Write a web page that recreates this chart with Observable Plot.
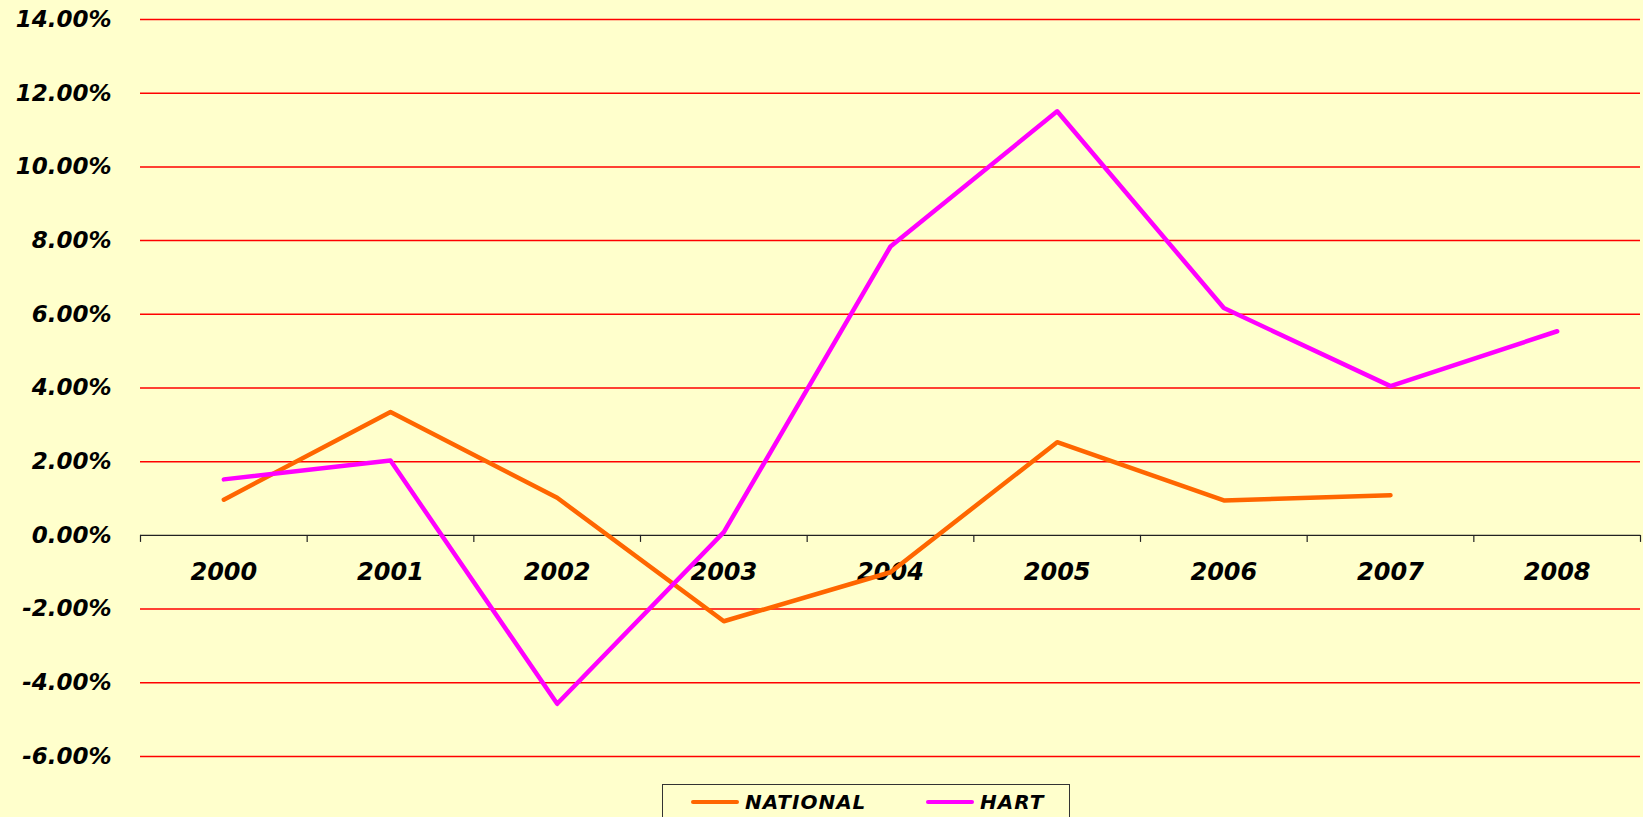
<!DOCTYPE html>
<html>
<head>
<meta charset="utf-8">
<script src="https://cdn.jsdelivr.net/npm/d3@7"></script>
<script src="https://cdn.jsdelivr.net/npm/@observablehq/plot@0.6"></script>
<style>
  html, body { margin: 0; padding: 0; background: #FFFFCC; overflow: hidden; }
  #wrap { position: relative; width: 1643px; height: 817px; }
  #legend {
    position: absolute; left: 662px; top: 784px; width: 408px; height: 44px;
    border: 1.5px solid #333; box-sizing: border-box;
    font-family: "DejaVu Sans", sans-serif; font-weight: bold; font-style: italic;
    font-size: 20px; letter-spacing: 1px; color: #000;
  }
  .item { position: absolute; top: 5px; display: flex; align-items: center; height: 24px; }
  .sw { width: 48px; height: 4.5px; border-radius: 3px; margin-right: 6px; }
</style>
</head>
<body>
<div id="wrap">
  <div id="chart"></div>
  <div id="legend"></div>
</div>
<script>
const years = [2000, 2001, 2002, 2003, 2004, 2005, 2006, 2007, 2008];
const nationalValues = [0.97, 3.35, 1.02, -2.33, -1.00, 2.53, 0.95, 1.09];
const hartValues = [1.52, 2.03, -4.57, 0.09, 7.84, 11.51, 6.17, 4.05, 5.54];
const yTicks = [-6, -4, -2, 0, 2, 4, 6, 8, 10, 12, 14];
const seriesNames = ["NATIONAL", "HART"];
const seriesColors = ["#FF6600", "#FF00FF"];

const national = nationalValues.map((v, i) => ({year: years[i], value: v}));
const hart = hartValues.map((v, i) => ({year: years[i], value: v}));
const bounds = years.map(y => y - 0.5).concat([years[years.length - 1] + 0.5]);

const chart = Plot.plot({
  width: 1643,
  height: 784,
  marginLeft: 140,
  marginRight: 3,
  marginTop: 19,
  marginBottom: 28,
  style: {background: "#FFFFCC", fontFamily: "DejaVu Sans, sans-serif", fontWeight: "bold", fontStyle: "italic", fontSize: "23px", color: "#000"},
  x: {type: "linear", domain: [bounds[0], bounds[bounds.length - 1]], axis: null},
  y: {domain: [-6, 14], axis: null},
  marks: [
    Plot.ruleY(yTicks.filter(d => d !== 0), {stroke: "#FF0000", strokeWidth: 1.5}),
    Plot.ruleY([0], {stroke: "#222", strokeWidth: 1.2}),
    Plot.ruleX(bounds, {y1: 0, y2: 0, insetBottom: -7, stroke: "#222", strokeWidth: 1.2}),
    Plot.axisY(yTicks, {anchor: "left", label: null, tickSize: 0, tickPadding: 29, tickFormat: d => d.toFixed(2) + "%", fontSize: 23}),
    Plot.text(years, {x: d => d, y: () => 0, dy: 37, text: d => String(d), fontSize: 24, fill: "#000"}),
    Plot.lineY(national, {x: "year", y: "value", stroke: seriesColors[0], strokeWidth: 4.5}),
    Plot.lineY(hart, {x: "year", y: "value", stroke: seriesColors[1], strokeWidth: 4.5})
  ]
});
document.getElementById("chart").appendChild(chart);

const legend = document.getElementById("legend");
const lefts = [28, 263];
seriesNames.forEach((name, i) => {
  const item = document.createElement("div");
  item.className = "item";
  item.style.left = lefts[i] + "px";
  const sw = document.createElement("div");
  sw.className = "sw";
  sw.style.background = seriesColors[i];
  const t = document.createElement("span");
  t.textContent = name;
  item.appendChild(sw);
  item.appendChild(t);
  legend.appendChild(item);
});
</script>
</body>
</html>
